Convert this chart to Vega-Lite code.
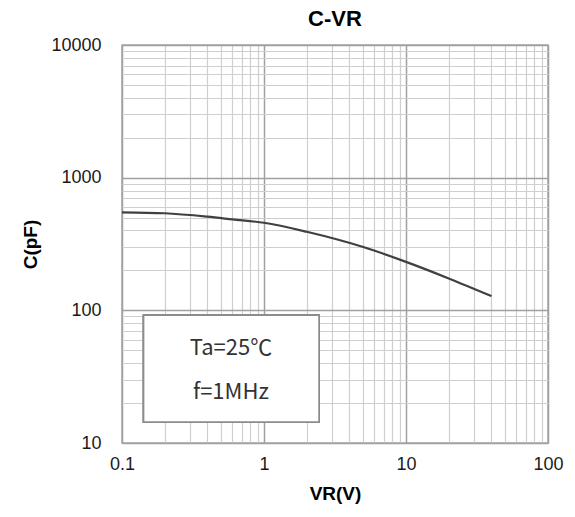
{
  "$schema": "https://vega.github.io/schema/vega-lite/v6.json",
  "width": 426,
  "height": 398,
  "autosize": {"type": "none"},
  "padding": {"left": 122, "top": 45, "right": 27, "bottom": 74},
  "background": "white",
  "title": {"text": "C-VR", "font": "Liberation Sans", "fontSize": 22, "fontWeight": "bold", "color": "#000000", "offset": 5},
  "config": {
    "view": {"stroke": "#a6a6a6", "strokeWidth": 1.5},
    "axis": {
      "labelFont": "Liberation Sans", "labelFontSize": 18, "labelColor": "#1a1a1a",
      "titleFont": "Liberation Sans", "titleFontSize": 19, "titleFontWeight": "bold", "titleColor": "#000000",
      "domain": false, "ticks": false, "tickSize": 0,
      "grid": true, "format": "~g",
      "gridColor": {"condition": {"test": "abs(log(datum.value)/LN10 - round(log(datum.value)/LN10)) < 1e-6", "value": "#a0a0a0"}, "value": "#cfcfcf"},
      "gridWidth": {"condition": {"test": "abs(log(datum.value)/LN10 - round(log(datum.value)/LN10)) < 1e-6", "value": 1.5}, "value": 1.2},
      "labelExpr": "abs(log(datum.value)/LN10 - round(log(datum.value)/LN10)) < 1e-6 ? datum.label : ''"
    }
  },
  "data": {"values": [
    {"VR": 0.1, "C": 548},
    {"VR": 0.2, "C": 539},
    {"VR": 0.4, "C": 508},
    {"VR": 0.6, "C": 485},
    {"VR": 1, "C": 457},
    {"VR": 2, "C": 391},
    {"VR": 5, "C": 300},
    {"VR": 10, "C": 232},
    {"VR": 20, "C": 174},
    {"VR": 40, "C": 128}
  ]},
  "layer": [
    {
      "mark": {"type": "line", "color": "#404040", "strokeWidth": 2.2, "interpolate": "monotone"},
      "encoding": {
        "x": {"field": "VR", "type": "quantitative",
          "scale": {"type": "log", "domain": [0.1, 100], "nice": false},
          "axis": {"title": "VR(V)", "labelPadding": 12, "titlePadding": 11, "labelFlush": false,
            "values": [0.1,0.2,0.3,0.4,0.5,0.6,0.7,0.8,0.9,1,2,3,4,5,6,7,8,9,10,20,30,40,50,60,70,80,90,100]}},
        "y": {"field": "C", "type": "quantitative",
          "scale": {"type": "log", "domain": [10, 10000], "nice": false},
          "axis": {"title": "C(pF)", "labelPadding": 21, "titlePadding": 10, "labelFlush": false,
            "values": [10,20,30,40,50,60,70,80,90,100,200,300,400,500,600,700,800,900,1000,2000,3000,4000,5000,6000,7000,8000,9000,10000]}}
      }
    },
    {
      "mark": {"type": "rect", "fill": "white", "stroke": "#8c8c8c", "strokeWidth": 1.5},
      "encoding": {
        "x": {"datum": 0.142, "type": "quantitative"},
        "x2": {"datum": 2.44},
        "y": {"datum": 91.7, "type": "quantitative"},
        "y2": {"datum": 14.4}
      }
    },
    {
      "data": {"values": [
        {"label": "Ta=25℃", "lx": 0.585, "ly": 51.6},
        {"label": "f=1MHz", "lx": 0.585, "ly": 24.1}
      ]},
      "mark": {"type": "text", "font": "Noto Sans CJK JP", "fontSize": 22, "color": "#333333", "align": "center", "baseline": "middle"},
      "encoding": {
        "x": {"field": "lx", "type": "quantitative"},
        "y": {"field": "ly", "type": "quantitative"},
        "text": {"field": "label"}
      }
    }
  ]
}
